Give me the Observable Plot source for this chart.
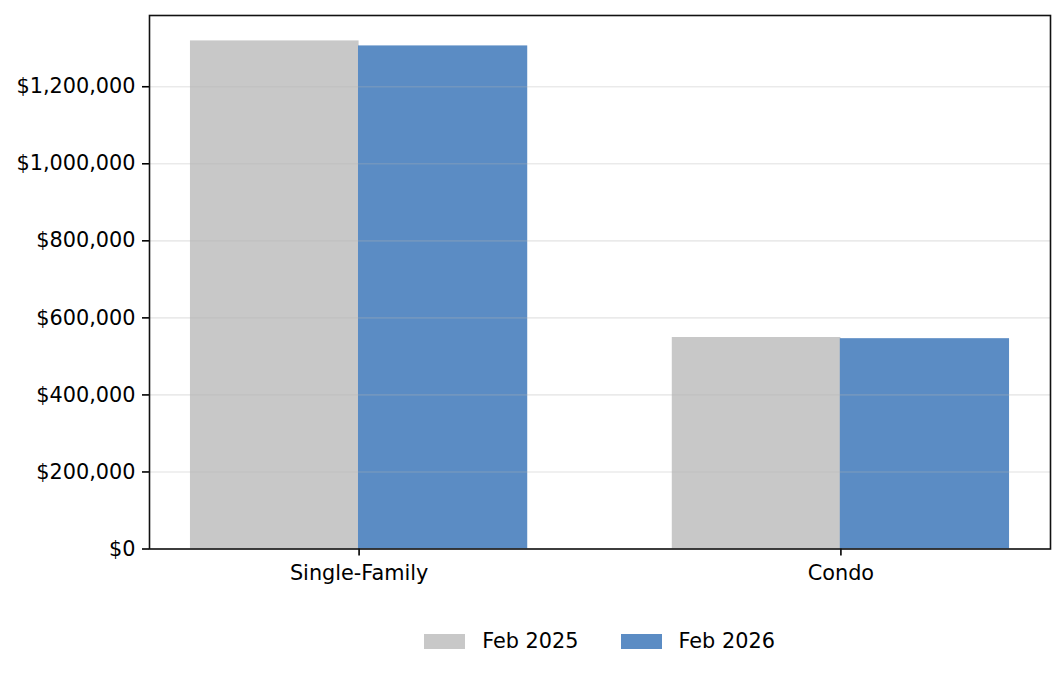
<!DOCTYPE html>
<html>
<head>
<meta charset="utf-8">
<script src="https://cdn.jsdelivr.net/npm/d3@7"></script>
<script src="https://cdn.jsdelivr.net/npm/@observablehq/plot@0.6"></script>
<style>
  html, body { margin: 0; padding: 0; background: #fff; }
  #wrap { position: relative; width: 1064px; height: 675px; font-family: "DejaVu Sans", sans-serif; }
  #legend { position: absolute; left: 149px; width: 901px; top: 629px; display: flex; justify-content: center; align-items: center; font-size: 20.8px; color: #000; }
  .item { display: flex; align-items: center; }
  .sw { width: 41px; height: 15px; margin-right: 17px; }
  .item + .item { margin-left: 42px; }
</style>
</head>
<body>
<div id="wrap">
  <div id="chart"></div>
  <div id="legend"></div>
</div>
<script>
const categories = ["Single-Family", "Condo"];
const years = ["Feb 2025", "Feb 2026"];
const values2025 = [1319000, 549000];
const values2026 = [1306000, 546000];
const yTicks = [0, 200000, 400000, 600000, 800000, 1000000, 1200000];
const colors = ["#c8c8c8", "#5b8cc4"];

const rows2025 = categories.map((c, i) => ({category: c, year: years[0], value: values2025[i]}));
const rows2026 = categories.map((c, i) => ({category: c, year: years[1], value: values2026[i]}));

const W = 1064, H = 600;
const mL = 149, mR = 14, mT = 15, mB = 51.5;
const pIn = 0.3, pOut = 0.085;
const plotW = W - mL - mR;
const step = plotW / (categories.length - pIn + 2 * pOut);
const half = step * (1 - pIn) / 2;
const yMax = d3.max([...values2025, ...values2026]) * 1.05;
const fmt = d => "$" + d3.format(",")(d);

const chart = Plot.plot({
  width: W,
  height: H,
  marginLeft: mL,
  marginRight: mR,
  marginTop: mT,
  marginBottom: mB,
  style: {fontFamily: "DejaVu Sans, sans-serif", fontSize: "20.8px", color: "#000", background: "#fff"},
  x: {domain: categories, paddingInner: pIn, paddingOuter: pOut, round: false, label: null},
  y: {domain: [0, yMax], label: null},
  marks: [
    Plot.barY(rows2025, {x: "category", y: "value", fill: colors[0], insetRight: half, insetLeft: 0}),
    Plot.barY(rows2026, {x: "category", y: "value", fill: colors[1], insetLeft: half - 0.6, insetRight: 0}),
    Plot.gridY(yTicks, {stroke: "#b0b0b0", strokeOpacity: 0.27, strokeWidth: 1.6}),
    Plot.axisY({ticks: yTicks, tickFormat: fmt, tickSize: 7, tickPadding: 7, strokeWidth: 1.6, label: null, fontSize: 20.8}),
    Plot.axisX({tickSize: 7, tickPadding: 9, strokeWidth: 1.6, label: null, fontSize: 20.8}),
    Plot.frame({stroke: "#111", strokeWidth: 1.6})
  ]
});
document.getElementById("chart").appendChild(chart);

const legend = document.getElementById("legend");
years.forEach((y, i) => {
  const item = document.createElement("div");
  item.className = "item";
  const sw = document.createElement("div");
  sw.className = "sw";
  sw.style.background = colors[i];
  const t = document.createElement("span");
  t.textContent = y;
  item.appendChild(sw);
  item.appendChild(t);
  legend.appendChild(item);
});
</script>
</body>
</html>
